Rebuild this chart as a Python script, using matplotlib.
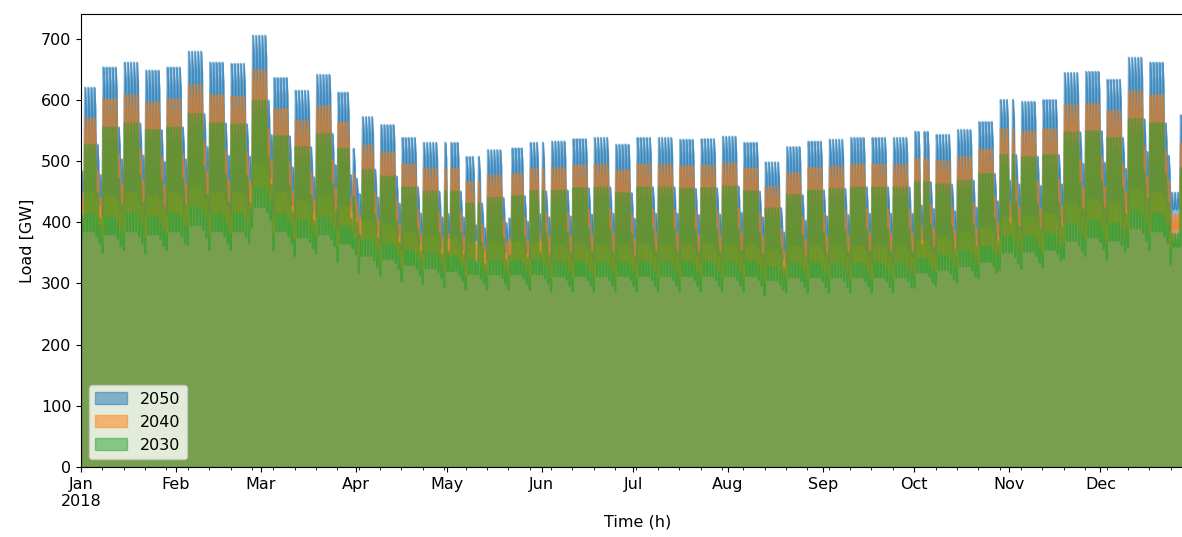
import numpy as np
import pandas as pd
import matplotlib
matplotlib.use("Agg")
from matplotlib import pyplot as plt

plt.rcParams["font.size"] = 11.5

years = ["2050", "2040", "2030"]

# weekday daily peak per week in GW (week 0 starts Monday 1 Jan 2018)
peak_2050 = [620, 653, 661, 648, 653, 679, 661, 659, 705, 636, 615, 641, 612, 572,
             559, 538, 530, 530, 507, 518, 521, 530, 532, 536, 538, 527, 538, 538,
             535, 536, 540, 530, 498, 523, 532, 535, 538, 538, 538, 548, 543, 551,
             564, 600, 597, 600, 644, 646, 633, 669, 661, 575, 560]
peak_2040 = [570, 601, 608, 596, 601, 625, 608, 606, 649, 585, 566, 590, 563, 526,
             514, 495, 488, 488, 466, 477, 479, 488, 489, 493, 495, 485, 495, 495,
             492, 493, 497, 488, 458, 481, 489, 492, 495, 495, 495, 504, 500, 507,
             519, 552, 549, 552, 592, 594, 582, 615, 608, 529, 515]
peak_2030 = [527, 555, 562, 551, 555, 577, 562, 560, 599, 541, 523, 545, 520, 486,
             475, 457, 451, 451, 431, 440, 443, 451, 452, 456, 457, 448, 457, 457,
             455, 456, 459, 451, 423, 445, 452, 455, 457, 457, 457, 466, 462, 468,
             479, 510, 507, 510, 547, 549, 538, 569, 562, 489, 476]

# weekday night minimum per week in GW
night_2050 = [450, 445, 450, 445, 450, 462, 450, 450, 497, 450, 439, 445, 427, 404,
              398, 386, 380, 374, 369, 369, 369, 369, 365, 365, 365, 365, 365, 365,
              365, 365, 365, 365, 357, 363, 363, 363, 363, 363, 363, 372, 377, 384,
              392, 410, 412, 415, 433, 439, 433, 456, 450, 421, 398]
night_2040 = [416, 410, 416, 410, 416, 427, 416, 416, 459, 416, 405, 410, 394, 373,
              367, 356, 351, 346, 340, 340, 340, 340, 337, 337, 337, 337, 337, 337,
              337, 337, 337, 337, 329, 335, 335, 335, 335, 335, 335, 343, 348, 354,
              362, 378, 380, 383, 400, 405, 400, 421, 416, 389, 367]
night_2030 = [385, 380, 385, 380, 385, 395, 385, 385, 425, 385, 375, 380, 365, 345,
              340, 330, 325, 320, 315, 315, 315, 315, 312, 312, 312, 312, 312, 312,
              312, 312, 312, 312, 305, 310, 310, 310, 310, 310, 310, 318, 322, 328,
              335, 350, 352, 355, 370, 375, 370, 390, 385, 360, 340]

# share of the weekday level on each day type (Mon..Sun)
day_share = [1.0, 1.0, 1.0, 1.0, 1.0, 0.85, 0.77]
night_share = [0.92, 1.0, 1.0, 1.0, 1.0, 0.98, 0.95]
afternoon_share = 0.95
holiday_share = 0.78

holidays = ["2018-01-01", "2018-03-30", "2018-04-02", "2018-05-01", "2018-05-10",
            "2018-05-21", "2018-05-31", "2018-10-03", "2018-11-01", "2018-12-24",
            "2018-12-25", "2018-12-26", "2018-12-31"]

peaks = {"2050": peak_2050, "2040": peak_2040, "2030": peak_2030}
nights = {"2050": night_2050, "2040": night_2040, "2030": night_2030}

idx = pd.date_range("2018-01-01 00:00", "2018-12-31 16:00", freq="8h")
week = np.array((idx.dayofyear - 1) // 7)
dow = np.array(idx.dayofweek)
hour = np.array(idx.hour)
is_hol = np.isin(idx.normalize(), pd.DatetimeIndex(holidays))

dshare = np.array(day_share)[dow]
dshare = np.where(is_hol, holiday_share, dshare)
dshare = np.where(hour == 16, dshare * afternoon_share, dshare)
nshare = np.array(night_share)[dow]

data = {}
for y in years:
    p = np.array(peaks[y])[week]
    n = np.array(nights[y])[week]
    data[y] = np.where(hour == 0, n * nshare, p * dshare)
df = pd.DataFrame(data, index=idx)

fig = plt.figure(figsize=(11.82, 5.37), dpi=100)
ax = fig.add_axes([81 / 1182, 70 / 537, (1194 - 81) / 1182, 453 / 537])
df.plot.area(stacked=False, ax=ax)
ax.set_xlabel("Time (h)")
ax.set_ylabel("Load [GW]")
ax.legend(loc="lower left")

fig.savefig("out.png", dpi=100)
